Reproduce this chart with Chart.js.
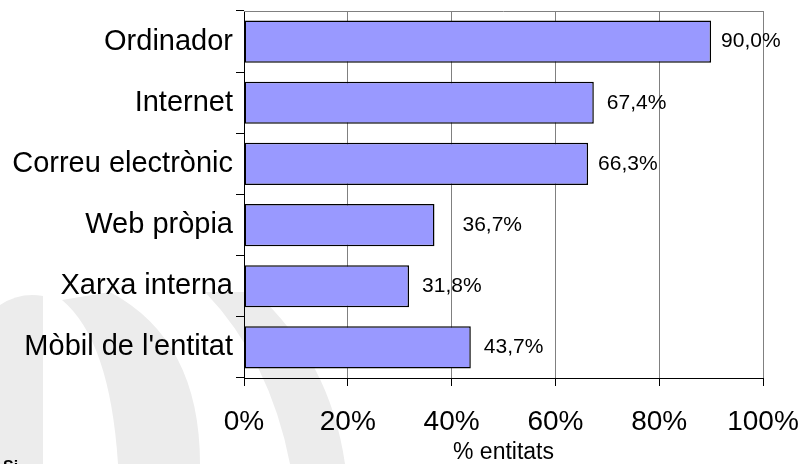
<!DOCTYPE html>
<html>
<head>
<meta charset="utf-8">
<script src="https://cdn.jsdelivr.net/npm/chart.js@4.4.1/dist/chart.umd.min.js"></script>
<style>
  html, body { margin: 0; padding: 0; background: #fff; overflow: hidden; }
  #wrap { position: relative; width: 811px; height: 464px; overflow: hidden; }
  #note { position: absolute; left: 3px; top: 458px; font: bold 16px "Liberation Sans", Arial, sans-serif; color: #000; }
</style>
</head>
<body>
<div id="wrap">
  <canvas id="chart" width="811" height="464"></canvas>
  <div id="note">Si</div>
</div>
<script>
// dades del gràfic
var categories = ['Ordinador', 'Internet', 'Correu electrònic', 'Web pròpia', 'Xarxa interna', "Mòbil de l'entitat"]
var values = [90.0, 67.4, 66.3, 36.7, 31.8, 43.7]
var xTicks = [0, 20, 40, 60, 80, 100]
var axisTitle = '% entitats'

// distància de cada etiqueta al final de la barra (px)
var labelGap = [10, 13, 10, 28, 13, 13]

var fontName = '"Liberation Sans", Arial, sans-serif'

// marca d'aigua grisa del fons
var watermark = {
  id: 'watermark',
  beforeDraw: function (chart) {
    var ctx = chart.ctx
    ctx.save()
    ctx.fillStyle = '#ececec'
    ctx.beginPath()
    ctx.moveTo(0, 305)
    ctx.quadraticCurveTo(20, 292, 43, 296)
    ctx.lineTo(43, 464)
    ctx.lineTo(0, 464)
    ctx.closePath()
    ctx.fill()
    ctx.beginPath()
    ctx.moveTo(118, 464)
    ctx.quadraticCurveTo(110, 340, 62, 300)
    ctx.lineTo(110, 292)
    ctx.quadraticCurveTo(200, 340, 200, 464)
    ctx.closePath()
    ctx.fill()
    ctx.beginPath()
    ctx.moveTo(205, 292)
    ctx.lineTo(255, 292)
    ctx.quadraticCurveTo(330, 360, 345, 464)
    ctx.lineTo(290, 464)
    ctx.quadraticCurveTo(270, 360, 205, 292)
    ctx.closePath()
    ctx.fill()
    ctx.restore()
  }
}

// vora superior de l'àrea i etiquetes de valor
var extras = {
  id: 'extras',
  afterDraw: function (chart) {
    var ctx = chart.ctx
    var a = chart.chartArea
    ctx.save()
    ctx.strokeStyle = '#808080'
    ctx.lineWidth = 1
    ctx.beginPath()
    ctx.moveTo(a.left, a.top + 0.5)
    ctx.lineTo(a.right, a.top + 0.5)
    ctx.stroke()

    ctx.fillStyle = '#000'
    ctx.font = '21px ' + fontName
    ctx.textAlign = 'left'
    ctx.textBaseline = 'middle'
    chart.getDatasetMeta(0).data.forEach(function (bar, i) {
      var txt = values[i].toFixed(1).replace('.', ',') + '%'
      ctx.fillText(txt, bar.x + labelGap[i], bar.y)
    })
    ctx.restore()
  }
}

new Chart(document.getElementById('chart'), {
  type: 'bar',
  data: {
    labels: categories,
    datasets: [{
      data: values,
      backgroundColor: '#9999ff',
      borderColor: '#000',
      borderWidth: 1.5,
      borderSkipped: false,
      barPercentage: 0.69,
      categoryPercentage: 1
    }]
  },
  options: {
    indexAxis: 'y',
    responsive: false,
    animation: false,
    devicePixelRatio: 1,
    layout: { padding: { top: 11, right: 48, left: 0, bottom: 0 } },
    plugins: {
      legend: { display: false },
      tooltip: { enabled: false }
    },
    scales: {
      x: {
        min: 0,
        max: 100,
        afterBuildTicks: function (scale) {
          scale.ticks = xTicks.map(function (v) { return { value: v } })
        },
        afterFit: function (scale) {
          scale.height = 86
          scale.paddingLeft = 0
          scale.paddingRight = 0
        },
        grid: {
          color: '#808080',
          tickColor: '#000',
          tickLength: 8
        },
        border: { color: '#000', width: 1 },
        ticks: {
          color: '#000',
          padding: 19,
          maxRotation: 0,
          font: { family: fontName, size: 28 },
          callback: function (v) { return v + '%' }
        },
        title: {
          display: true,
          text: axisTitle,
          color: '#000',
          padding: 0,
          font: { family: fontName, size: 23, lineHeight: 1 }
        }
      },
      y: {
        afterFit: function (scale) {
          scale.width = 244
          scale.paddingTop = 0
          scale.paddingBottom = 0
        },
        grid: {
          offset: true,
          drawOnChartArea: false,
          color: '#000',
          tickLength: 8
        },
        border: { color: '#000', width: 1 },
        ticks: {
          color: '#000',
          padding: 3,
          font: { family: fontName, size: 29 }
        }
      }
    }
  },
  plugins: [watermark, extras]
})
</script>
</body>
</html>
